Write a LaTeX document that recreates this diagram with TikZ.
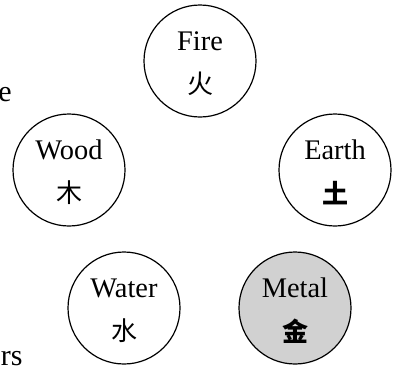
\documentclass[tikz,border=0pt]{standalone}
\usepackage{fontspec}
\setmainfont{Liberation Serif}
\newfontfamily\cjk{Noto Sans CJK SC}

\begin{document}
\begin{tikzpicture}[
        x=.5pt, y=-.5pt,
        elem/.style={circle, draw, line width=.6pt, minimum size=56pt, inner sep=0pt},
        word/.style={font=\fontsize{14.2}{16}\selectfont, anchor=base, inner sep=0pt},
        hanzi/.style={font=\fontsize{13}{15}\cjk, inner sep=0pt},
        body/.style={font=\fontsize{15}{18}\selectfont, anchor=base east, inner sep=0pt},
    ]
    \useasboundingbox (0,0) rectangle (395,365);

    %% the five phases, Metal shaded
    \node[elem] (fire) at (200,61) {};
    \node[elem] (wood) at (69,170) {};
    \node[elem] (earth) at (335,170) {};
    \node[elem] (water) at (124,308) {};
    \node[elem, fill=black!18] (metal) at (295,308) {};

    %% name above, character below
    \foreach \n/\w/\c in {fire/Fire/火, wood/Wood/木, earth/Earth/\textbf{土},
                          water/Water/水, metal/Metal/\textbf{金}}{
        \node[word] (\n-name) at ([yshift=5.5pt]\n.center) {\w};
        \node[hanzi] (\n-char) at ([yshift=-11.5pt]\n.center) {\c};
    }

    %% running text at the left margin
    \node[body] (txt-a) at (12,101) {e};
    \node[body] (txt-b) at (23,365) {ers};
\end{tikzpicture}
\end{document}
